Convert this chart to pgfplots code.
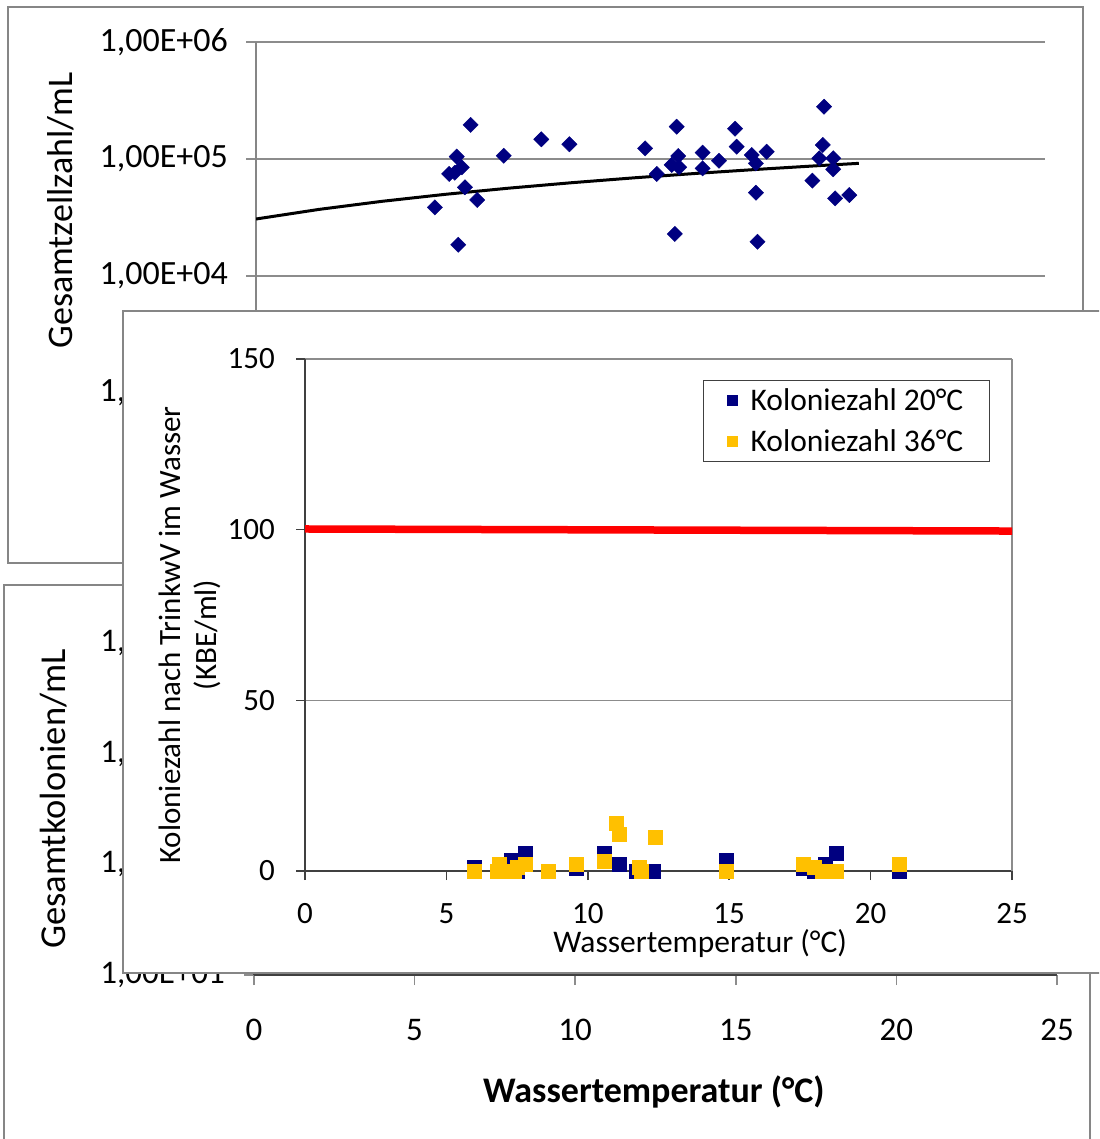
\documentclass[border=0pt]{standalone}
\usepackage{fontspec}
\setmainfont{Carlito}
\usepackage{pgfplots}
\usepackage{pgfplotstable}
\pgfplotsset{compat=1.18}
\definecolor{navy}{RGB}{0,0,128}
\definecolor{gold}{RGB}{255,192,0}
\definecolor{framegray}{RGB}{134,134,134}
\definecolor{gridgray}{RGB}{140,140,140}
\definecolor{axisdark}{RGB}{64,64,64}

\pgfplotstableread{
x y
5.67 38600
6.41 18500
6.36 104800
6.12 74500
6.30 76400
6.52 84900
6.62 57300
7.01 44700
6.80 195500
7.85 106700
9.04 147300
9.93 133700
12.33 123300
12.70 74500
13.33 188900
13.27 22900
13.38 106100
13.17 88900
13.41 84900
14.15 113300
14.15 83200
14.67 96700
15.18 181600
15.23 127400
15.71 108200
15.84 91800
15.84 51500
15.89 19600
16.18 115300
18.00 279800
17.96 131800
17.85 101400
17.63 65300
18.29 101400
18.29 81600
18.35 46100
18.80 49200
}\dataA

\pgfplotstableread{
x y
0 30700
2 37100
4 43500
6 49900
8 56300
10 62700
12 69100
14 75500
16 81900
18 88300
19.1 91800
}\trendA

\pgfplotstableread{
x y
5.98 1.0
6.8 0
7.3 3.2
7.77 5.1
7.5 0
8.6 0
9.6 0.7
10.57 5.2
11.1 2.0
11.7 0
12.3 0
14.9 3.2
17.6 0.7
18.0 0
18.4 2.1
18.8 5.1
21.0 0
}\dataBlue

\pgfplotstableread{
x y
5.98 0
6.85 1.9
6.8 0
7.1 0
7.4 0
7.5 1.0
7.8 1.9
8.6 0
9.6 1.9
10.57 3.0
11.0 13.9
11.1 10.9
11.8 1.0
11.9 0
12.4 9.8
14.9 0
17.6 1.9
18.0 1.0
18.3 0
18.8 0
21.0 1.9
}\dataGold

\begin{document}
\begin{tikzpicture}
\useasboundingbox (0pt,0pt) rectangle (1099pt,-1139pt);
\clip (0pt,0pt) rectangle (1099pt,-1139pt);
\fill[white] (0pt,0pt) rectangle (1099pt,-1139pt);

% ---------- Panel A ----------
\draw[framegray, line width=2pt, fill=white] (8pt,-7pt) rectangle (1083pt,-563pt);
\begin{axis}[
  at={(256pt,-393pt)}, anchor=south west,
  scale only axis, width=789pt, height=351pt,
  xmin=0, xmax=25, ymode=log, ymin=1e3, ymax=1e6,
  axis x line*=bottom, axis y line*=left,
  axis line style={framegray, line width=1.5pt},
  ytick={1e3,1e4,1e5,1e6},
  yticklabels={{1,00E+03},{1,00E+04},{1,00E+05},{1,00E+06}},
  yminorticks=false,
  xtick={0,5,...,25}, xticklabels={},
  ymajorgrids, major grid style={gridgray, line width=1.5pt},
  tick style={gridgray, line width=1.5pt}, major tick length=10pt, tick align=outside,
  /pgf/number format/assume math mode=true,
  tick label style={font=\fontsize{34}{40}\selectfont, inner sep=0pt},
  yticklabel style={xshift=-18pt},
  ylabel={Gesamtzellzahl/mL},
  ylabel style={at={(axis description cs:-0.248,0.52)}, anchor=center, font=\fontsize{36}{42}\selectfont},
]
\addplot[only marks, mark=square*, mark size=5.4pt, mark options={rotate=45, fill=navy, draw=navy}] table {\dataA};
\addplot[black, line width=3pt] table {\trendA};
\end{axis}

% ---------- Panel B ----------
\draw[framegray, line width=2pt, fill=white] (4pt,-585pt) rectangle (1090pt,-1170pt);
\begin{axis}[
  at={(254pt,-975pt)}, anchor=south west,
  scale only axis, width=803pt, height=332pt,
  xmin=0, xmax=25, ymode=log, ymin=10, ymax=1e4,
  axis x line*=bottom, axis y line*=left,
  axis line style={axisdark, line width=1.5pt},
  ytick={10,100,1000,10000},
  yticklabels={{1,00E+01},{1,00E+02},{1,00E+03},{1,00E+04}},
  yminorticks=false,
  xtick={0,5,...,25},
  tick style={gridgray, line width=1.5pt}, major tick length=10pt, tick align=outside,
  /pgf/number format/assume math mode=true,
  tick label style={font=\fontsize{33}{40}\selectfont, inner sep=0pt},
  yticklabel style={xshift=-19pt},
  xticklabel style={yshift=-34pt},
  xlabel={\textbf{Wassertemperatur (°C)}},
  xlabel style={at={(axis description cs:0.498,-0.352)}, anchor=center, font=\fontsize{36}{42}\selectfont},
  ylabel={Gesamtkolonien/mL},
  ylabel style={at={(axis description cs:-0.25,0.53)}, anchor=center, font=\fontsize{36.5}{42}\selectfont},
]
\end{axis}

% ---------- Panel C ----------
\draw[framegray, line width=2pt, fill=white] (123pt,-311pt) rectangle (1130pt,-973pt);
\begin{axis}[
  at={(305pt,-871pt)}, anchor=south west,
  scale only axis, width=707pt, height=512pt,
  xmin=0, xmax=25, ymin=0, ymax=150,
  clip=false,
  axis x line*=bottom, axis y line*=left,
  axis line style={axisdark, line width=1.8pt},
  xtick={0,5,...,25}, ytick={0,50,100,150},
  extra x ticks={25}, extra x tick labels={},
  extra x tick style={grid=major, major tick length=0pt},
  ymajorgrids, major grid style={gridgray, line width=1.5pt},
  tick style={axisdark, line width=1.5pt}, major tick length=9pt, tick align=outside,
  /pgf/number format/assume math mode=true,
  tick label style={font=\fontsize{31}{37}\selectfont, inner sep=0pt},
  yticklabel style={xshift=-21pt},
  xticklabel style={yshift=-23pt},
  xlabel={Wassertemperatur (°C)},
  xlabel style={at={(axis description cs:0.559,-0.141)}, anchor=center, font=\fontsize{31.5}{37}\selectfont},
  ylabel={Koloniezahl nach TrinkwV im Wasser\\(KBE/ml)},
  ylabel style={at={(axis description cs:-0.163,0.461)}, anchor=center, align=center, font=\fontsize{31}{36}\selectfont},
  legend cell align=left,
  legend image code/.code={\path[draw=none, fill=none] (-5pt,0pt) rectangle (16pt,0pt);\draw[#1, mark size=5pt] plot coordinates {(0pt,0pt)};},
  legend style={at={(axis description cs:0.563,0.959)}, anchor=north west,
    draw=black!75, line width=1.2pt, fill=white,
    font=\fontsize{31.5}{37}\selectfont,
    inner xsep=24pt, inner ysep=6.5pt,
    nodes={inner sep=2pt},
    row sep=13pt},
]
\addplot[only marks, mark=square*, mark size=7pt, mark options={fill=navy, draw=navy}] table {\dataBlue};
\addlegendentry{Koloniezahl 20°C}
\addplot[only marks, mark=square*, mark size=7pt, mark options={fill=gold, draw=gold}] table {\dataGold};
\addlegendentry{Koloniezahl 36°C}
\addplot[red, line width=7.5pt, forget plot] coordinates {(0,100.2) (25,99.6)};
\end{axis}
\end{tikzpicture}
\end{document}
